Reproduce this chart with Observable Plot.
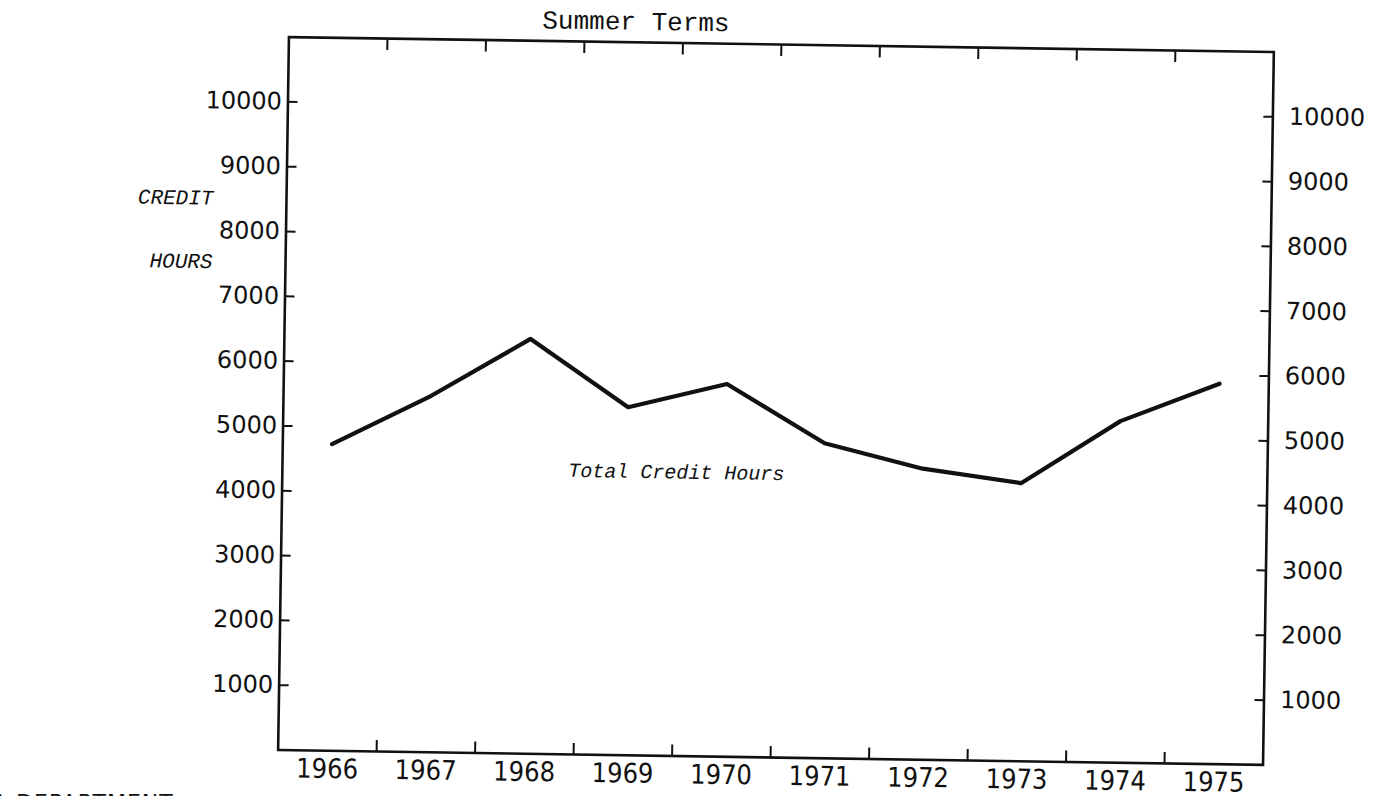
<!DOCTYPE html>
<html>
<head>
<meta charset="utf-8">
<script src="https://cdn.jsdelivr.net/npm/d3@7"></script>
<script src="https://cdn.jsdelivr.net/npm/@observablehq/plot@0.6"></script>
<style>
  html, body { margin: 0; padding: 0; background: #fff; width: 1384px; height: 796px; overflow: hidden; }
  #chart { position: absolute; left: 0; top: 0; width: 1384px; height: 796px; }
  #chart svg { position: absolute; left: 0; top: 0; transform-origin: 776px 400px; transform: rotate(0.87deg); }
  #footer { position: absolute; left: -8px; top: 790px; font: 22px "DejaVu Sans", sans-serif; color: #111; letter-spacing: 1px; white-space: nowrap; }
</style>
</head>
<body>
<div id="chart"></div>
<div id="footer">A DEPARTMENT</div>
<script>
// ---- data ----
const years = [1966, 1967, 1968, 1969, 1970, 1971, 1972, 1973, 1974, 1975];
const creditHours = [4730, 5500, 6400, 5370, 5750, 4860, 4490, 4290, 5270, 5870];
const yTickValues = [1000, 2000, 3000, 4000, 5000, 6000, 7000, 8000, 9000, 10000];
const yearBoundaries = [1966.5, 1967.5, 1968.5, 1969.5, 1970.5, 1971.5, 1972.5, 1973.5, 1974.5];
const chartTitle = "Summer Terms";
const axisTitleLines = ["CREDIT", "HOURS"];
const axisTitleValues = [8500, 7520];
const seriesLabel = "Total Credit Hours";
const seriesLabelYear = 1969.5;
const seriesLabelValue = 4380;

const data = years.map((year, i) => ({year, hours: creditHours[i]}));
const axisTitles = axisTitleLines.map((text, i) => ({text, value: axisTitleValues[i]}));

const ink = "#111";
const numFont = "'DejaVu Sans', sans-serif";
const yearFont = "'DejaVu Sans Condensed', 'Liberation Sans Narrow', 'DejaVu Sans', sans-serif";
const typeFont = "'Liberation Mono', 'DejaVu Sans Mono', monospace";

const chart = Plot.plot({
  width: 1384,
  height: 796,
  marginLeft: 283,
  marginRight: 116,
  marginTop: 44,
  marginBottom: 39,
  style: {background: "#fff", color: ink, overflow: "visible"},
  x: {domain: [1965.5, 1975.5]},
  y: {domain: [0, 11000]},
  marks: [
    // left axis: inward ticks + labels
    Plot.axisY({anchor: "left", ticks: yTickValues, tickSize: -10, strokeWidth: 2, tickFormat: () => "", label: null}),
    Plot.axisY({anchor: "left", ticks: yTickValues, tickSize: 0, tickPadding: 6, tickFormat: d => String(d),
      fontSize: 24, fontFamily: numFont, label: null}),
    // right axis
    Plot.axisY({anchor: "right", ticks: yTickValues, tickSize: -10, strokeWidth: 2, tickFormat: () => "", label: null}),
    Plot.axisY({anchor: "right", ticks: yTickValues, tickSize: 0, tickPadding: 16, tickFormat: d => String(d),
      fontSize: 24, fontFamily: numFont, label: null}),
    // bottom axis: boundary ticks + year labels
    Plot.axisX({anchor: "bottom", ticks: yearBoundaries, tickSize: -11, strokeWidth: 2, tickFormat: () => "", label: null}),
    Plot.axisX({anchor: "bottom", ticks: years, tickSize: 0, tickPadding: 8, tickFormat: d => String(d),
      fontSize: 27, fontFamily: yearFont, label: null}),
    // top axis: boundary ticks
    Plot.axisX({anchor: "top", ticks: yearBoundaries, tickSize: -11, strokeWidth: 2, tickFormat: () => "", label: null}),
    Plot.frame({stroke: ink, strokeWidth: 2.6}),
    // the series
    Plot.line(data, {x: "year", y: "hours", stroke: ink, strokeWidth: 4.2, strokeLinejoin: "round", strokeLinecap: "round"}),
    // annotations
    Plot.text([seriesLabel], {x: [seriesLabelYear], y: [seriesLabelValue], text: d => d,
      fontFamily: typeFont, fontStyle: "italic", fontSize: 20, fill: ink}),
    Plot.text([chartTitle], {x: [1969.02], frameAnchor: "top", dy: -31, text: d => d,
      fontFamily: typeFont, fontSize: 26, fill: ink}),
    Plot.text(axisTitles, {y: "value", text: "text", frameAnchor: "left", textAnchor: "end", dx: -73,
      fontFamily: typeFont, fontStyle: "italic", fontSize: 21, fill: ink})
  ]
});
document.getElementById("chart").appendChild(chart);
</script>
</body>
</html>
